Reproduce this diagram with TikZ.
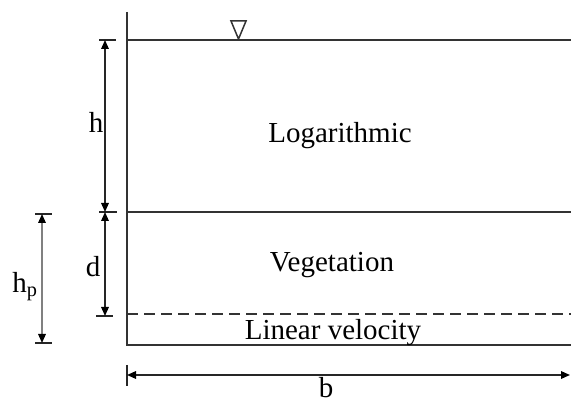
\documentclass[tikz,border=0pt]{standalone}
\usepackage{fontspec}
\setmainfont{Liberation Serif}
\usetikzlibrary{arrows.meta,calc,positioning}

\begin{document}
\begin{tikzpicture}[x=1pt, y=-1pt, >={Triangle[length=9pt,width=7.5pt,color=black]},
    every node/.style={font=\fontsize{29}{34}\selectfont, inner sep=0pt, anchor=base},
    wall/.style={line width=1.6pt, draw=black!80},
    dimline/.style={line width=1.6pt, draw=black!85, <->},
    tickline/.style={line width=1.4pt, draw=black!85}]
    \useasboundingbox (0,0) rectangle (571,403);

    % channel outline and layer boundaries
    \coordinate (walltop) at (127,12);
    \coordinate (bedL) at (127,345);   \coordinate (bedR) at (571,345);
    \coordinate (surfL) at (127,40);   \coordinate (surfR) at (571,40);
    \coordinate (vegL) at (127,212);   \coordinate (vegR) at (571,212);
    \coordinate (linL) at (127,314);   \coordinate (linR) at (571,314);

    \draw[wall] (walltop) -- (bedL) -- (bedR);
    \draw[wall] (surfL) -- (surfR);
    \draw[wall] (vegL) -- (vegR);
    \draw[wall, dashed, dash pattern=on 11pt off 6pt] (linL) -- (linR);

    % water surface mark
    \coordinate (surfmark) at (238.5,39);
    \draw[line width=1.5pt, draw=black!80, line join=miter] (surfmark) -- ++(-7.5,-18) -- ++(15,0) -- cycle;

    % layer names
    \node (logtext) at (340,143) {Logarithmic};
    \node (vegtext) at (332,272) {Vegetation};
    \node (lintext) at (333,340) {Linear velocity};

    % dimension h and d
    \coordinate (htop) at (105,40);
    \coordinate (hbot) at (105,212);
    \coordinate (dbot) at (105,316);
    \draw[tickline] (99,40) -- (116,40);
    \draw[tickline] (99,212) -- (117,212);
    \draw[tickline] (96,316) -- (113,316);
    \draw[dimline] (htop) -- (hbot);
    \draw[dimline] (hbot) -- (dbot);
    \node (hlabel) at (96,133) {h};
    \node (dlabel) at (93,277) {d};

    % dimension h_p
    \coordinate (hptop) at (42,214);
    \coordinate (hpbot) at (42,343);
    \draw[tickline] (35,214) -- (52,214);
    \draw[tickline] (35,343) -- (52,343);
    \draw[dimline, draw=black!50] (hptop) -- (hpbot);
    \node (hplabel) at (25,293) {h\textsubscript{p}};

    % dimension b
    \coordinate (bL) at (127,375);
    \coordinate (bR) at (570,375);
    \draw[tickline] (127,365) -- (127,386);
    \draw[dimline] (bL) -- (bR);
    \node (blabel) at (326,398) {b};
\end{tikzpicture}
\end{document}
